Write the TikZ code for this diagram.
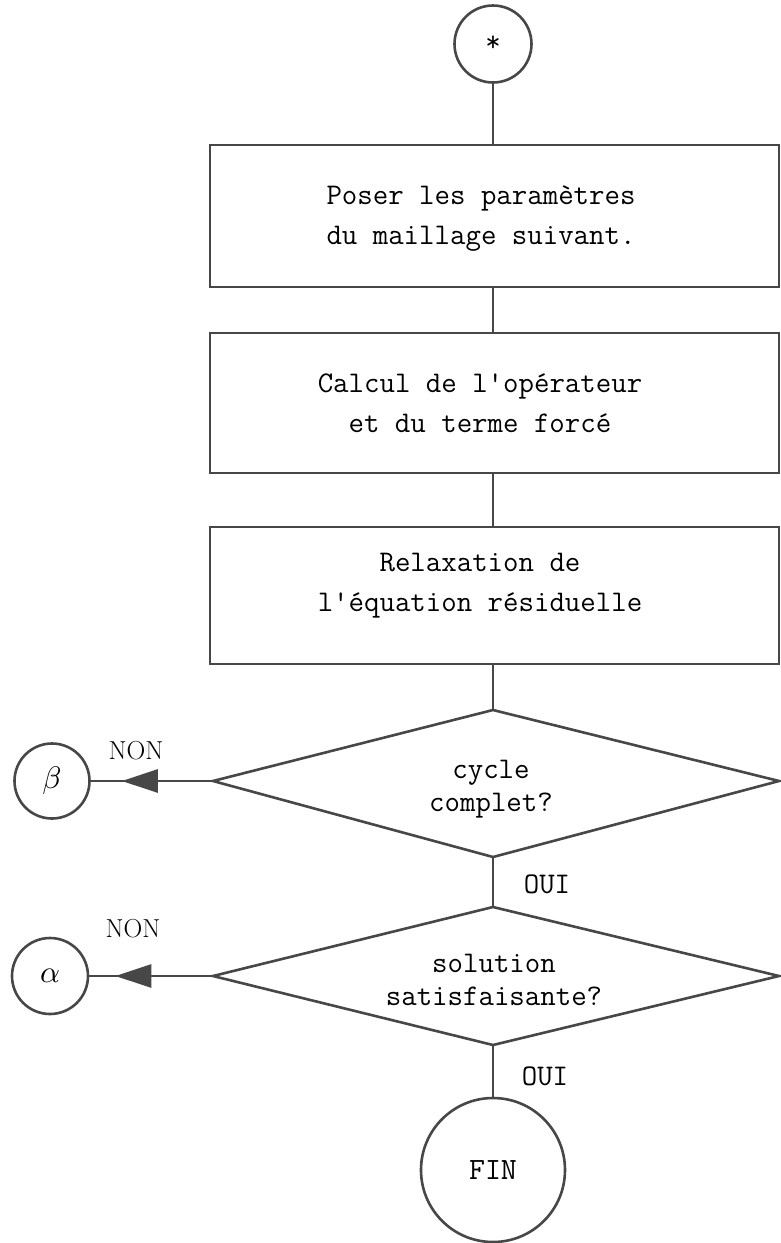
\documentclass[tikz,border=0pt]{standalone}
\usepackage{fontspec}
\usepackage{graphicx}
\usetikzlibrary{arrows.meta}
\begin{document}
\begin{tikzpicture}[x=1pt,y=-1pt,
  ln/.style={line width=2.6pt, draw=black!72},
  boxnode/.style={ln, rectangle, minimum width=569pt, inner sep=0pt},
  txt/.style={inner sep=0pt, align=center, font=\ttfamily\fontsize{30}{40}\selectfont},
  diatext/.style={inner sep=0pt, align=center, font=\ttfamily\fontsize{30}{33}\selectfont},
  circ/.style={ln, circle, inner sep=0pt},
  lbl/.style={font=\fontsize{26}{26}\selectfont},
  oui/.style={font=\ttfamily\fontsize{30}{30}\selectfont},
  arr/.style={ln, fill=black!72, -{Triangle[length=36pt,width=23pt]}}
]
\useasboundingbox (0,0) rectangle (780,1243);
\node[circ, minimum size=77pt, font=\ttfamily\fontsize{30}{30}\selectfont] (start) at (493,44) {*};
% boxes
\node[boxnode, minimum height=142pt] (b1) at (494.5,216) {};
\node[txt] (b1t) at (481,219) {Poser les paramètres\\du maillage suivant.};
\node[boxnode, minimum height=140pt] (b2) at (494.5,403) {};
\node[txt] (b2t) at (480,403) {Calcul de l\textquotesingle opérateur\\et du terme forcé};
\node[boxnode, minimum height=137pt] (b3) at (494.5,595.5) {};
\node[txt] (b3t) at (480,586) {Relaxation de\\l\textquotesingle équation résiduelle};
% decision 1
\coordinate (d1t) at (493,710);
\coordinate (d1l) at (213,781);
\coordinate (d1r) at (779,781);
\coordinate (d1b) at (493,857);
\draw[ln, line join=miter] (d1t) -- (d1r) -- (d1b) -- (d1l) -- cycle;
\node[diatext] (d1) at (491,789) {cycle\\complet?};
% decision 2
\coordinate (d2t) at (493,907);
\coordinate (d2l) at (213,976);
\coordinate (d2r) at (779,976);
\coordinate (d2b) at (493,1045);
\draw[ln, line join=miter] (d2t) -- (d2r) -- (d2b) -- (d2l) -- cycle;
\node[diatext] (d2) at (494,980) {solution\\satisfaisante?};
% connector circles
\node[circ, minimum size=75pt] (beta) at (52,781) {\scalebox{3.1}{$\beta$}};
\node[circ, minimum size=76pt] (alpha) at (50,976) {\scalebox{3.1}{$\alpha$}};
\node[circ, minimum size=144pt, font=\ttfamily\fontsize{31}{31}\selectfont] (fin) at (493,1170) {FIN};
% flow lines
\draw[ln] (start.south) -- (start.south |- b1.north);
\draw[ln] (start.south |- b1.south) -- (start.south |- b2.north);
\draw[ln] (start.south |- b2.south) -- (start.south |- b3.north);
\draw[ln] (start.south |- b3.south) -- (d1t);
\draw[ln] (d1b) -- (d2t);
\draw[ln] (d2b) -- (fin);
\draw[ln] (d1l) -- (beta.east);
\draw[arr] (d1l) -- ([xshift=31pt]beta.east);
\draw[ln] (d2l) -- (alpha.east);
\draw[arr] (d2l) -- ([xshift=26pt]alpha.east);
% labels
\node[lbl] (non1) at (136,751) {NON};
\node[lbl] (non2) at (133,929) {NON};
\node[oui] (oui1) at (547,884) {OUI};
\node[oui] (oui2) at (545,1076) {OUI};
\end{tikzpicture}
\end{document}
